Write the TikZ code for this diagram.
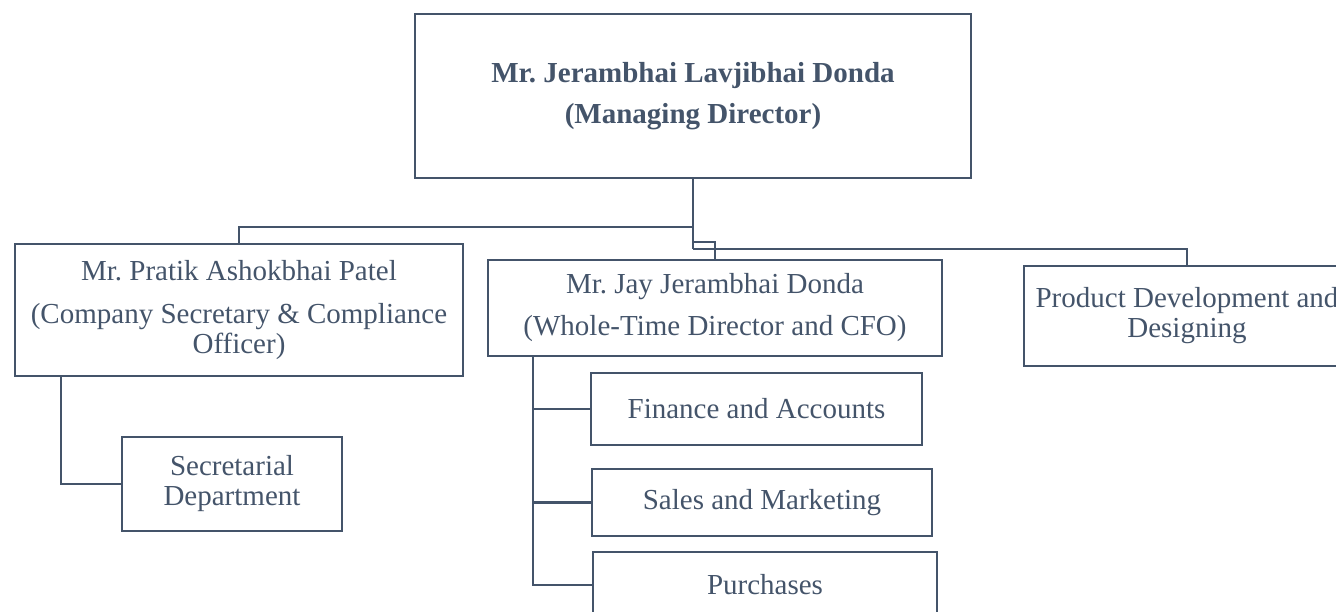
\documentclass[tikz,border=0pt]{standalone}
\usepackage{fontspec}
\setmainfont{Liberation Serif}
\frenchspacing
\definecolor{slate}{HTML}{44546A}
\tikzset{
  box/.style={draw=slate, line width=2.6pt, rectangle, inner sep=0pt, align=center,
    text=slate, font=\fontsize{29}{30}\selectfont},
  link/.style={draw=slate, line width=2.6pt}
}
\begin{document}
\begin{tikzpicture}[x=1pt,y=-1pt]
\useasboundingbox (0,0) rectangle (1336,612);
\clip (0,0) rectangle (1336,612);
\node[box, minimum width=556pt, minimum height=164pt, font=\fontsize{29}{29}\selectfont\bfseries] (md) at (693,96)
  {Mr. Jerambhai Lavjibhai Donda\\[12pt](Managing Director)};
\node[box, minimum width=448pt, minimum height=132pt] (pratik) at (239,310)
  {Mr. Pratik Ashokbhai Patel\\[13pt](Company Secretary \& Compliance\\Officer)};
\node[box, minimum width=220pt, minimum height=94pt] (sec) at (232,484)
  {Secretarial\\Department};
\node[box, minimum width=454pt, minimum height=96pt] (jay) at (715,308)
  {Mr. Jay Jerambhai Donda\\[12pt](Whole-Time Director and CFO)};
\node[box, minimum width=331pt, minimum height=72pt] (fin) at (756.5,409)
  {Finance and Accounts};
\node[box, minimum width=340pt, minimum height=67pt] (sales) at (762,502.5)
  {Sales and Marketing};
\node[box, minimum width=344pt, minimum height=66pt] (purch) at (765,585)
  {Purchases};
\node[box, minimum width=326pt, minimum height=100pt] (prod) at (1187,316)
  {Product Development and\\Designing};
\coordinate (busL) at (693,227);
\coordinate (busJ) at (693,242);
\coordinate (busR) at (693,249);
\coordinate (pS) at (61,376);
\coordinate (jS) at (533,356);
\draw[link] (md.south) -- (busR);
\draw[link] (busL) -| (pratik.north);
\draw[link] (busJ) -| (jay.north);
\draw[link] (busR) -| (prod.north);
\draw[link] (pS) |- (sec.west);
\draw[link] (jS) |- (fin.west);
\draw[link] (jS) |- (sales.west);
\draw[link] (jS) |- (purch.west);
\end{tikzpicture}
\end{document}
